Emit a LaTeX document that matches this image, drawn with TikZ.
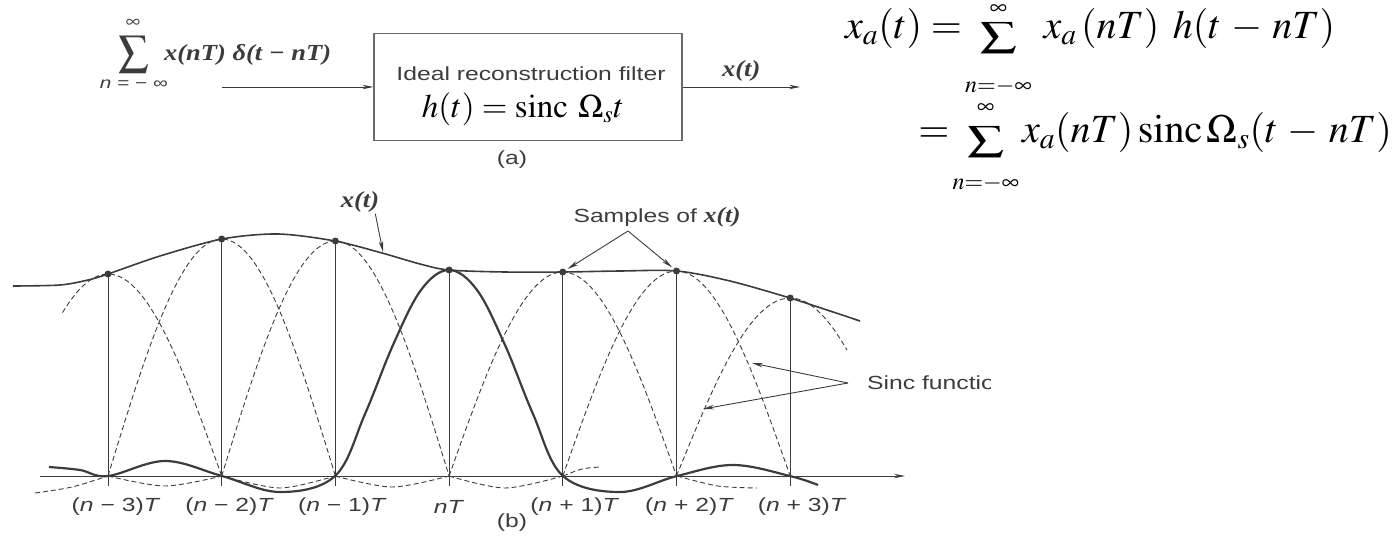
\documentclass[tikz,border=0pt]{standalone}
\usepackage{mathptmx}
\usepackage{graphicx}
\usepackage[no-math]{fontspec}
\newfontfamily\figsans[FakeStretch=1.3]{Liberation Sans}
\newfontfamily\figserif[FakeStretch=1.15]{Liberation Serif}
\usetikzlibrary{arrows.meta}
\definecolor{scan}{HTML}{3C3C3C}
\definecolor{scanbox}{HTML}{6A6A6A}
\newsavebox\sumglyph
% sum sign with limits placed by hand (#1 raise of top, #2 raise of bottom)
\newcommand{\bigsum}[2]{\sbox\sumglyph{\raisebox{-9pt}{\scalebox{1.3}[0.9]{$\textstyle\sum$}}}%
  \mathop{\usebox\sumglyph
    \llap{\makebox[\wd\sumglyph]{\smash{\raisebox{#1}{$\scriptscriptstyle\infty$}}}}%
    \llap{\makebox[\wd\sumglyph]{\smash{\raisebox{#2}{$\scriptscriptstyle n=-\infty$}}}}}}
\tikzset{
  >={Stealth[length=11pt,width=4.5pt]},
  lbl/.style={font=\figsans\fontsize{19}{22}\selectfont,text=scan,inner sep=1pt},
  siglbl/.style={font=\figserif\bfseries\itshape\fontsize{23}{27}\selectfont,text=scan,inner sep=1pt},
  eqn/.style={font=\fontsize{40}{46}\selectfont,text=black,inner sep=0pt},
  filterbox/.style={draw=scanbox,line width=1.1pt,minimum width=308pt,minimum height=107pt},
  sig/.style={->,draw=scan,line width=1pt},
  pointer/.style={->,draw=scan,line width=0.9pt},
  curve/.style={draw=scan,line width=1.6pt},
  sincmain/.style={draw=scan,line width=2.2pt},
  lobe/.style={draw=scan,dash pattern=on 5pt off 3pt,line width=0.9pt},
  stem/.style={draw=scan,line width=0.9pt},
  sampledot/.style={circle,fill=scan,inner sep=0pt,minimum size=7pt},
}
\begin{document}
\begin{tikzpicture}[x=1pt,y=-1pt]
  \useasboundingbox (0,0) rectangle (1393,544);

  % (a) reconstruction block
  \node[text=scan,inner sep=0pt,font=\fontsize{30}{34}\selectfont] (sumop) at (134,55) {$\displaystyle\sum$};
  \node[text=scan,inner sep=0pt,font=\fontsize{20}{22}\selectfont] (suminf) at (133,23) {$\infty$};
  \node[lbl,font=\figsans\fontsize{16}{18}\selectfont] (sumidx) at (134,84) {\textit{n} = − ∞};
  \node[siglbl,anchor=west] (impulses) at (163,55) {x(nT) δ(t − nT)};
  \node[filterbox] (filter) at (528,87) {};
  \node[lbl] (filtername) at (531,74) {Ideal reconstruction filter};
  \node[eqn,font=\fontsize{33}{38}\selectfont] (hform) at (523,109) {$h\!\left(t\right)= \mathrm{sinc}\ \Omega_s t$};
  \coordinate (insrc) at (222,87);
  \coordinate (outdst) at (800,87);
  \draw[sig] (insrc) -- (filter.west);
  \draw[sig] (filter.east) -- (outdst) node[siglbl,pos=0.5,above=4pt] (outlbl) {x(t)};
  \node[lbl] (parta) at (512,160) {(a)};

  % right: interpolation formula
  \node[eqn,anchor=base west] (recon1) at (845,38)
    {$x_a\!\left(t\right)= \;\bigsum{24pt}{-54pt}\;\;\, x_a\left(nT\right)\;h\!\left(t\,-\,nT\right)$};
  \node[eqn,anchor=base east] (recon2) at (1392,142)
    {$= \;\bigsum{29pt}{-47pt}\;\, x_a\!\left(nT\right)\mathrm{sinc}\,\Omega_s\!\left(t\,-\,nT\right)$};

  % (b) samples and sinc pulses
  \coordinate (axl) at (40,476);
  \coordinate (axr) at (905,476);

  \foreach \xc/\h/\ua/\ub in {108/202/-0.4/1, 221.7/237/-1/1, 335.4/235/-1/1,
                              562.8/204/-1/1, 676.5/205/-1/1, 790.2/178/-1/0.5}
    \draw[lobe] plot[domain=\ua:\ub,samples=30,smooth] ({\xc+113.7*\x},{476-\h*cos(90*\x)});
  \draw[lobe] plot[smooth] coordinates {(35,493) (72,487) (108,476)};
  \draw[lobe] plot[smooth] coordinates {(108,476) (165,486) (222,476)};
  \draw[lobe] plot[smooth] coordinates {(222,476) (280,488) (335,476)};
  \draw[lobe] plot[smooth] coordinates {(335,476) (392,487) (449,476)};
  \draw[lobe] plot[smooth] coordinates {(449,476) (505,488) (563,476)};
  \draw[lobe] plot[smooth] coordinates {(563,476) (582,469) (600,467)};
  \draw[lobe] plot[smooth] coordinates {(677,476) (718,486) (757,488)};

  \draw[sig] (axl) -- (axr);

  % x(t)
  \draw[curve] plot[smooth] coordinates {(13,286) (60,285) (88,280) (108,274) (160,256)
    (222,239) (278,234) (335,241) (382,253) (420,264) (449,270) (505,272) (563,272)
    (620,271) (677,271) (730,281) (790,298) (830,311) (860,321)};
  % sinc pulse of sample n
  \draw[sincmain] plot[smooth,tension=0.6] coordinates {(49,467) (80,470) (108,476)
    (165,461) (222,476) (280,492) (335,476) (365,414) (393,345) (421,290) (449,270)
    (477,290) (505,345) (533,414) (563,476) (620,492) (677,476) (733,465) (790,476) (818,485)};

  \foreach \xc/\yc/\dx/\tick [count=\i] in {108/274/8/{(\textit{n} − 3)\textit{T}},
      221.7/239/8/{(\textit{n} − 2)\textit{T}}, 335.4/241/7/{(\textit{n} − 1)\textit{T}},
      449.1/270/0/{\textit{nT}}, 562.8/272/12/{(\textit{n} + 1)\textit{T}},
      676.5/271/13/{(\textit{n} + 2)\textit{T}}, 790.2/298/12/{(\textit{n} + 3)\textit{T}}} {
    \coordinate (g\i) at (\xc,486);
    \draw[stem] (\xc,\yc) -- (g\i);
    \node[sampledot] (s\i) at (\xc,\yc) {};
    \node[lbl] (t\i) at (\xc+\dx,507) {\tick};
  }

  \node[siglbl] (xtlbl) at (360,202) {x(t)};
  \coordinate (xtpt) at (383,252);
  \draw[pointer] ([xshift=-5pt]xtlbl.south east) -- (xtpt);

  \node[lbl] (samplbl) at (657,217) {Samples of {\figserif\bfseries\itshape\fontsize{22}{26}\selectfont x(t)}};
  \coordinate (sampapex) at (628,231);
  \draw[pointer,shorten >=2pt] (sampapex) -- (s5);
  \draw[pointer,shorten >=2pt] (sampapex) -- (s6);

  \begin{scope}
    \clip (0,0) rectangle (990,544);
    \node[lbl,anchor=west] (sinclbl) at (866,383) {Sinc function};
  \end{scope}
  \coordinate (sincapex) at (848,383);
  \coordinate (sinctip1) at (752,363);
  \coordinate (sinctip2) at (703,409);
  \draw[pointer] (sincapex) -- (sinctip1);
  \draw[pointer] (sincapex) -- (sinctip2);

  \node[lbl] (partb) at (512,523) {(b)};
\end{tikzpicture}
\end{document}
